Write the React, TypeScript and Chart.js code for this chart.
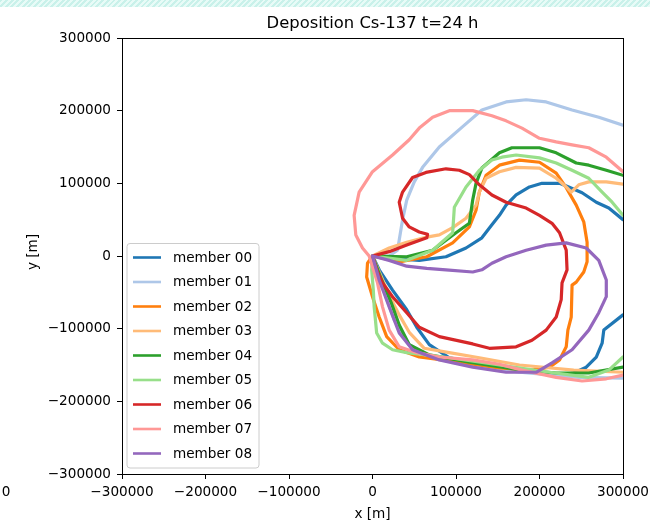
import React, { useEffect, useRef } from "react";
import { Chart, registerables } from "chart.js";

Chart.register(...registerables);

type Pt = [number, number];

const chartTitle = "Deposition Cs-137 t=24 h";
const xAxisTitle = "x [m]";
const yAxisTitle = "y [m]";
const axisMin = -300000;
const axisMax = 300000;
const tickStep = 100000;
const strayTickLabel = "0";

const memberNames = [
  "member 00",
  "member 01",
  "member 02",
  "member 03",
  "member 04",
  "member 05",
  "member 06",
  "member 07",
  "member 08",
];

const memberColors = [
  "#1f77b4",
  "#aec7e8",
  "#ff7f0e",
  "#ffbb78",
  "#2ca02c",
  "#98df8a",
  "#d62728",
  "#ff9896",
  "#9467bd",
];

// Deposition contour of each ensemble member, [x, y] in metres
const member00: Pt[] = [
  [300000, 50000], [283000, 66000], [268000, 74000], [251000, 87000], [235000, 95000],
  [224000, 100000], [203000, 100000], [188000, 95000], [172000, 84000], [160000, 70000],
  [152000, 56000], [143000, 43000], [131000, 25000], [112000, 11000], [88000, -1000],
  [56000, -6000], [20000, -3000], [0, 0], [8000, -19000], [24000, -47000],
  [41000, -74000], [53000, -98000], [68000, -122000], [92000, -140000], [140000, -151000],
  [188000, -160000], [224000, -164000], [241000, -161000], [256000, -153000], [268000, -139000],
  [275000, -120000], [277000, -102000], [300000, -81000],
];

const member01: Pt[] = [
  [300000, 180000], [271000, 191000], [239000, 201000], [208000, 212000], [184000, 215000],
  [160000, 212000], [131000, 201000], [108000, 178000], [80000, 150000], [60000, 122000],
  [50000, 102000], [41000, 77000], [36000, 50000], [32000, 22000], [30000, 8000],
  [20000, 0], [0, 0], [11000, -40000], [26000, -88000], [44000, -122000],
  [68000, -138000], [116000, -149000], [176000, -160000], [247000, -167000], [300000, -168000],
];

const member02: Pt[] = [
  [0, 0], [32000, -8000], [65000, -1000], [96000, 18000], [116000, 40000],
  [124000, 63000], [128000, 88000], [136000, 111000], [152000, 125000], [176000, 132000],
  [200000, 129000], [220000, 114000], [232000, 94000], [244000, 70000], [253000, 47000],
  [257000, 19000], [257000, -8000], [253000, -22000], [244000, -36000], [239000, -40000],
  [238000, -84000], [234000, -102000], [232000, -125000], [224000, -143000], [212000, -153000],
  [191000, -157000], [152000, -154000], [104000, -146000], [56000, -139000], [32000, -129000],
  [17000, -111000], [8000, -84000], [0, -56000], [-7000, -29000], [-6000, -10000], [0, 0],
];

const member03: Pt[] = [
  [300000, 99000], [280000, 102000], [259000, 102000], [247000, 98000], [238000, 88000],
  [232000, 95000], [220000, 107000], [200000, 121000], [172000, 122000], [152000, 116000],
  [136000, 107000], [128000, 88000], [124000, 70000], [112000, 52000], [96000, 39000],
  [80000, 29000], [65000, 26000], [41000, 19000], [20000, 11000], [0, 0],
  [8000, -22000], [20000, -54000], [32000, -81000], [44000, -105000], [62000, -127000],
  [92000, -133000], [128000, -140000], [176000, -150000], [241000, -157000], [300000, -160000],
];

const member04: Pt[] = [
  [300000, 111000], [280000, 118000], [259000, 125000], [244000, 128000], [220000, 142000],
  [200000, 149000], [167000, 149000], [152000, 142000], [131000, 121000], [124000, 100000],
  [120000, 77000], [116000, 45000], [100000, 32000], [72000, 8000], [41000, -1000],
  [0, 0], [11000, -33000], [23000, -66000], [32000, -95000], [44000, -122000],
  [68000, -136000], [116000, -146000], [179000, -157000], [220000, -161000], [259000, -161000],
  [300000, -153000],
];

const member05: Pt[] = [
  [300000, 56000], [287000, 74000], [275000, 88000], [259000, 107000], [239000, 118000],
  [220000, 128000], [200000, 135000], [172000, 139000], [155000, 136000], [143000, 132000],
  [128000, 118000], [112000, 95000], [98000, 67000], [96000, 32000], [72000, 8000],
  [41000, -6000], [0, 0], [-1000, -19000], [1000, -47000], [2000, -70000],
  [5000, -106000], [12000, -120000], [24000, -129000], [41000, -133000], [92000, -140000],
  [152000, -150000], [212000, -160000], [259000, -167000], [283000, -157000], [300000, -139000],
];

const member06: Pt[] = [
  [0, 0], [20000, 6000], [41000, 15000], [65000, 25000], [66000, 30000],
  [56000, 33000], [44000, 40000], [36000, 52000], [32000, 74000], [36000, 88000],
  [48000, 108000], [64000, 115000], [88000, 120000], [104000, 118000], [116000, 112000],
  [128000, 98000], [143000, 84000], [160000, 74000], [184000, 66000], [200000, 56000],
  [215000, 45000], [224000, 32000], [232000, 8000], [233000, -19000], [227000, -37000],
  [226000, -60000], [220000, -84000], [208000, -102000], [191000, -116000], [172000, -125000],
  [140000, -127000], [120000, -121000], [80000, -111000], [56000, -98000], [41000, -78000],
  [24000, -56000], [12000, -37000], [5000, -19000], [0, 0],
];

const member07: Pt[] = [
  [300000, 116000], [280000, 136000], [259000, 149000], [239000, 153000], [220000, 157000],
  [200000, 162000], [179000, 176000], [160000, 186000], [143000, 193000], [120000, 200000],
  [92000, 200000], [72000, 191000], [56000, 176000], [44000, 160000], [24000, 139000],
  [0, 116000], [-16000, 88000], [-22000, 56000], [-20000, 29000], [-12000, 11000],
  [-4000, 0], [6000, -37000], [12000, -70000], [20000, -102000], [32000, -125000],
  [53000, -133000], [80000, -139000], [120000, -143000], [152000, -149000], [179000, -157000],
  [220000, -167000], [251000, -172000], [280000, -169000], [300000, -164000],
];

const member08: Pt[] = [
  [0, 0], [20000, -6000], [41000, -14000], [65000, -17000], [88000, -19000],
  [120000, -22000], [131000, -19000], [143000, -10000], [160000, -1000], [184000, 8000],
  [208000, 15000], [232000, 18000], [256000, 11000], [271000, -6000], [280000, -33000],
  [280000, -56000], [271000, -78000], [259000, -102000], [239000, -129000], [215000, -147000],
  [196000, -160000], [160000, -160000], [120000, -153000], [80000, -143000], [48000, -129000],
  [32000, -106000], [20000, -70000], [8000, -33000], [0, 0],
];

const contours: Pt[][] = [
  member00, member01, member02, member03, member04,
  member05, member06, member07, member08,
];

const FONT_FAMILY = "'DejaVu Sans', 'Liberation Sans', sans-serif";
const FONT_SIZE = 13.6;
const TITLE_SIZE = 16.4;

const formatTick = (v: number) => (v < 0 ? "\u2212" + String(-v) : String(v));

// Frame, title, axis titles and the boxed legend inside the axes
const decorPlugin = {
  id: "decor",
  afterDraw(chart: any) {
    const { ctx, chartArea: ca } = chart;
    ctx.save();

    const l = Math.round(ca.left) + 0.5;
    const t = Math.round(ca.top) + 0.5;
    const w = Math.round(ca.right) - Math.round(ca.left);
    const h = Math.round(ca.bottom) - Math.round(ca.top);
    ctx.strokeStyle = "#000";
    ctx.lineWidth = 1;
    ctx.strokeRect(l, t, w, h);

    const cx = (ca.left + ca.right) / 2;
    ctx.fillStyle = "#000";
    ctx.font = `${TITLE_SIZE}px ${FONT_FAMILY}`;
    ctx.textAlign = "center";
    ctx.textBaseline = "alphabetic";
    ctx.fillText(chartTitle, cx, 28);

    ctx.font = `${FONT_SIZE}px ${FONT_FAMILY}`;
    ctx.textBaseline = "middle";
    ctx.fillText(xAxisTitle, cx, 514);

    ctx.save();
    ctx.translate(33, 252);
    ctx.rotate(-Math.PI / 2);
    ctx.fillText(yAxisTitle, 0, 0);
    ctx.restore();

    ctx.fillText(strayTickLabel, 6, 492);

    // legend
    const rowH = 24.5;
    const boxL = ca.left + 5;
    const boxB = ca.bottom - 6;
    const boxH = rowH * memberNames.length + 4;
    const boxT = boxB - boxH;
    const boxW = 132;
    const r = 3;
    ctx.beginPath();
    ctx.moveTo(boxL + r, boxT);
    ctx.lineTo(boxL + boxW - r, boxT);
    ctx.quadraticCurveTo(boxL + boxW, boxT, boxL + boxW, boxT + r);
    ctx.lineTo(boxL + boxW, boxB - r);
    ctx.quadraticCurveTo(boxL + boxW, boxB, boxL + boxW - r, boxB);
    ctx.lineTo(boxL + r, boxB);
    ctx.quadraticCurveTo(boxL, boxB, boxL, boxB - r);
    ctx.lineTo(boxL, boxT + r);
    ctx.quadraticCurveTo(boxL, boxT, boxL + r, boxT);
    ctx.closePath();
    ctx.fillStyle = "rgba(255,255,255,0.8)";
    ctx.fill();
    ctx.strokeStyle = "#cccccc";
    ctx.lineWidth = 1;
    ctx.stroke();

    ctx.textAlign = "left";
    ctx.textBaseline = "middle";
    memberNames.forEach((name, i) => {
      const y = boxT + 14 + i * rowH;
      ctx.strokeStyle = memberColors[i];
      ctx.lineWidth = 2.6;
      ctx.beginPath();
      ctx.moveTo(boxL + 6, y);
      ctx.lineTo(boxL + 34, y);
      ctx.stroke();
      ctx.fillStyle = "#000";
      ctx.fillText(name, boxL + 46, y + 0.5);
    });

    ctx.restore();
  },
};

export default function App() {
  const canvasRef = useRef<HTMLCanvasElement | null>(null);

  useEffect(() => {
    if (!canvasRef.current) return;
    const tickFont = { family: FONT_FAMILY, size: FONT_SIZE };
    const chart = new Chart(canvasRef.current, {
      type: "scatter",
      data: {
        datasets: contours.map((pts, i) => ({
          label: memberNames[i],
          data: pts.map(([x, y]) => ({ x, y })),
          showLine: true,
          borderColor: memberColors[i],
          backgroundColor: memberColors[i],
          borderWidth: 3.2,
          pointRadius: 0,
          pointHoverRadius: 0,
          tension: 0,
          borderJoinStyle: "round",
          borderCapStyle: "round",
          clip: 0,
          order: memberNames.length - 1 - i,
        })),
      },
      options: {
        responsive: false,
        animation: false,
        devicePixelRatio: 1,
        layout: { padding: { left: 0, right: 27, top: 38, bottom: 0 } },
        plugins: {
          legend: { display: false },
          title: { display: false },
          tooltip: { enabled: false },
        },
        scales: {
          x: {
            type: "linear",
            min: axisMin,
            max: axisMax,
            afterFit: (scale: any) => {
              scale.height = 52;
              scale.paddingLeft = 0;
              scale.paddingRight = 0;
            },
            ticks: {
              stepSize: tickStep,
              color: "#000",
              font: tickFont,
              padding: 5,
              maxRotation: 0,
              callback: (v: any) => formatTick(Number(v)),
            },
            grid: {
              drawOnChartArea: false,
              drawTicks: true,
              tickLength: 5,
              color: "#000",
            },
            border: { display: true, color: "#000" },
          },
          y: {
            type: "linear",
            min: axisMin,
            max: axisMax,
            afterFit: (scale: any) => {
              scale.width = 122;
              scale.paddingTop = 0;
              scale.paddingBottom = 0;
            },
            ticks: {
              stepSize: tickStep,
              color: "#000",
              font: tickFont,
              padding: 6,
              callback: (v: any) => formatTick(Number(v)),
            },
            grid: {
              drawOnChartArea: false,
              drawTicks: true,
              tickLength: 5,
              color: "#000",
            },
            border: { display: true, color: "#000" },
          },
        },
      },
      plugins: [decorPlugin],
    });
    return () => chart.destroy();
  }, []);

  return (
    <div
      style={{
        position: "fixed",
        left: 0,
        top: 0,
        width: 650,
        height: 526,
        background: "#fff",
        overflow: "hidden",
      }}
    >
      <div
        style={{
          position: "absolute",
          left: 0,
          top: 0,
          width: 650,
          height: 7,
          background:
            "repeating-linear-gradient(135deg, #c9f1ea 0px, #c9f1ea 2px, #e8fbf7 2px, #e8fbf7 4px)",
        }}
      />
      <canvas
        ref={canvasRef}
        width={650}
        height={526}
        style={{ position: "absolute", left: 0, top: 0, width: 650, height: 526 }}
      />
    </div>
  );
}
